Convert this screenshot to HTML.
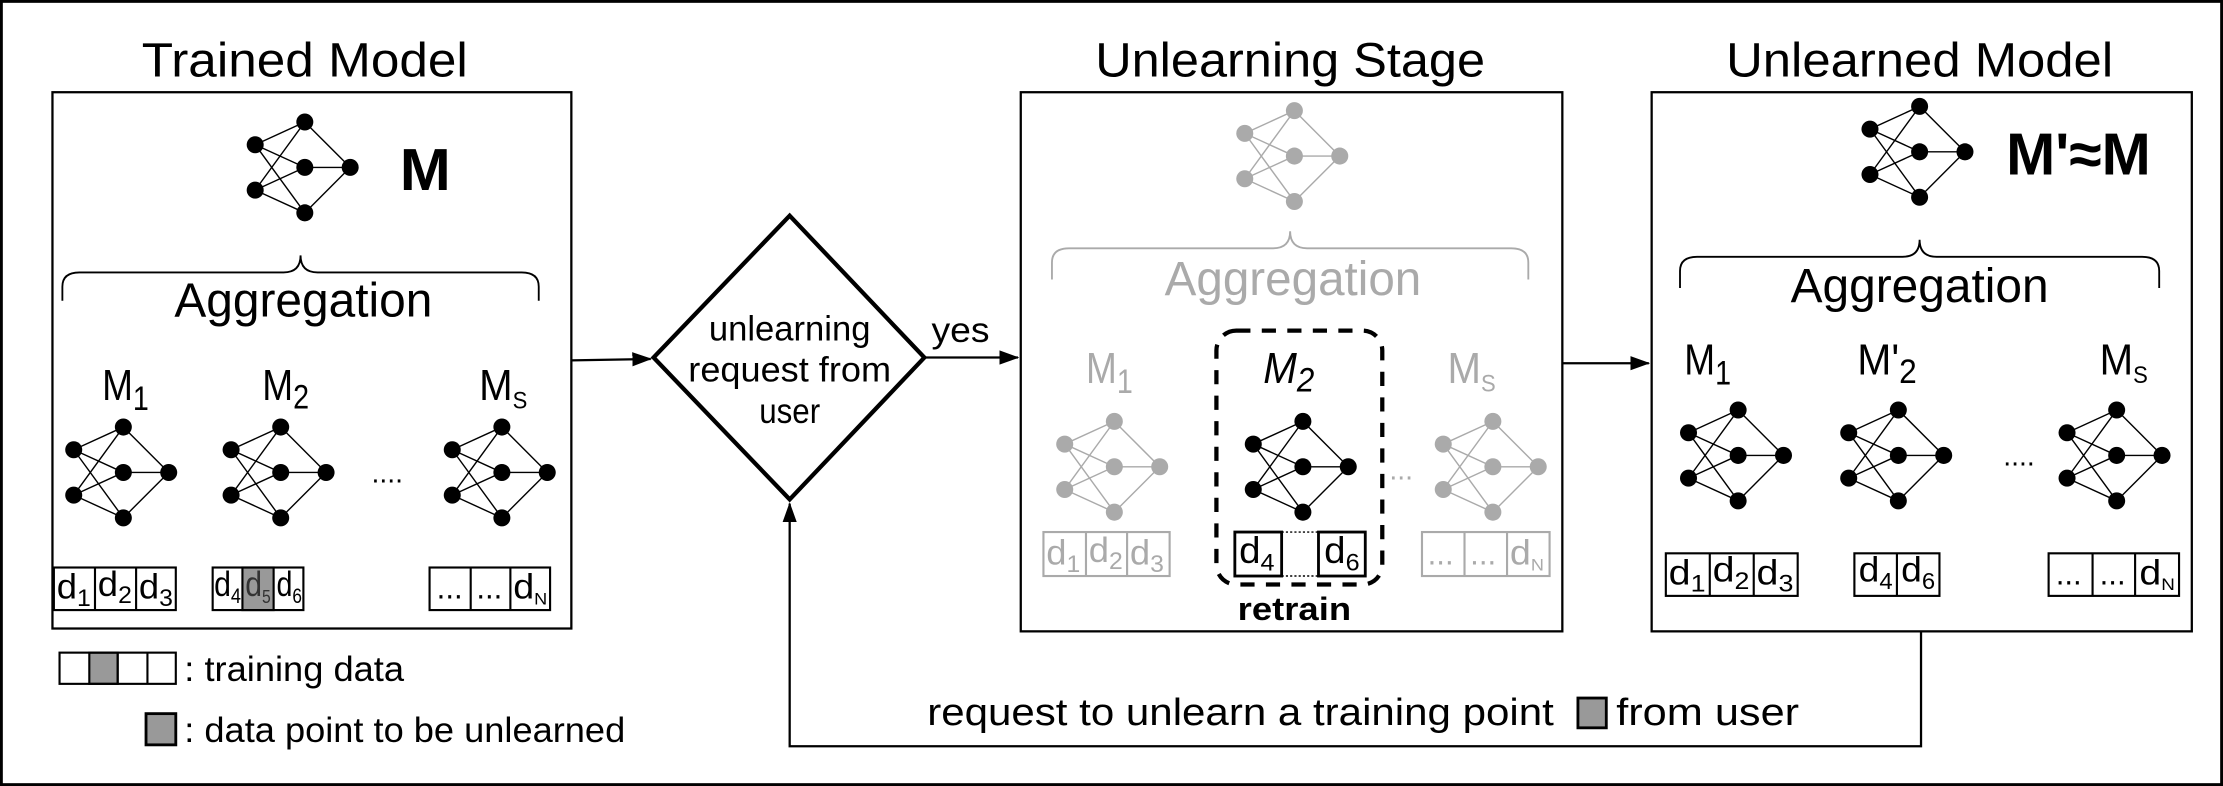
<!DOCTYPE html>
<html><head><meta charset="utf-8"><style>
html,body{margin:0;padding:0;background:#fff}
svg{display:block}
text{font-family:"Liberation Sans",sans-serif;}
</style></head><body>
<svg width="2223" height="786" viewBox="0 0 1568 554" preserveAspectRatio="none" xmlns="http://www.w3.org/2000/svg">
<defs>
<g id="net">
<g stroke-width="1">
<line x1="-35" y1="-16" x2="0" y2="-32"/><line x1="-35" y1="-16" x2="0" y2="0"/><line x1="-35" y1="-16" x2="0" y2="32"/>
<line x1="-35" y1="16" x2="0" y2="-32"/><line x1="-35" y1="16" x2="0" y2="0"/><line x1="-35" y1="16" x2="0" y2="32"/>
<line x1="0" y1="-32" x2="32" y2="0"/><line x1="0" y1="0" x2="32" y2="0"/><line x1="0" y1="32" x2="32" y2="0"/>
</g>
<g stroke="none">
<circle cx="-35" cy="-16" r="6"/><circle cx="-35" cy="16" r="6"/>
<circle cx="0" cy="-32" r="6"/><circle cx="0" cy="0" r="6"/><circle cx="0" cy="32" r="6"/>
<circle cx="32" cy="0" r="6"/>
</g>
</g>
<marker id="ah" markerWidth="14" markerHeight="12" refX="13" refY="6" orient="auto" markerUnits="userSpaceOnUse"><path d="M0,1 L14,6 L0,11 z" fill="#000"/></marker>
</defs>
<rect x="1" y="1" width="1566" height="552" fill="#fff" stroke="#000" stroke-width="2"/>

<g font-size="34" text-anchor="middle">
<text x="215" y="54" textLength="230" lengthAdjust="spacingAndGlyphs">Trained Model</text>
<text x="910" y="54" textLength="275" lengthAdjust="spacingAndGlyphs">Unlearning Stage</text>
<text x="1354" y="54" textLength="273" lengthAdjust="spacingAndGlyphs">Unlearned Model</text>
</g>

<!-- Box 1 -->
<rect x="37" y="65" width="366" height="378" fill="none" stroke="#000" stroke-width="1.6"/>
<g fill="#000" stroke="#000"><use href="#net" x="215" y="118"/><use href="#net" x="87" y="333"/><use href="#net" x="198" y="333"/><use href="#net" x="354" y="333"/></g>
<text x="282" y="134" font-size="42" font-weight="bold" textLength="36" lengthAdjust="spacingAndGlyphs">M</text>
<path d="M44,212 v-10 q0,-10 12,-10 h144 q12,0 12,-12 q0,12 12,12 h144 q12,0 12,10 v10" fill="none" stroke="#000" stroke-width="1.3"/>
<text x="214" y="223" font-size="34" text-anchor="middle" textLength="182" lengthAdjust="spacingAndGlyphs">Aggregation</text>
<g font-size="31">
<text x="72" y="282" textLength="33" lengthAdjust="spacingAndGlyphs">M<tspan font-size="24" dy="7">1</tspan></text>
<text x="185" y="282" textLength="33" lengthAdjust="spacingAndGlyphs">M<tspan font-size="24" dy="6">2</tspan></text>
<text x="338" y="282" textLength="34" lengthAdjust="spacingAndGlyphs">M<tspan font-size="17" dy="6">S</tspan></text></g>
<text x="262" y="340" font-size="20">....</text>

<g fill="none" stroke="#000" stroke-width="1.5">
<rect x="38" y="400" width="86" height="30"/><line x1="67" y1="400" x2="67" y2="430"/><line x1="96" y1="400" x2="96" y2="430"/>
<rect x="171" y="400" width="22" height="30" fill="#999"/>
<rect x="150" y="400" width="64" height="30"/>
<rect x="303" y="400" width="85" height="30"/><line x1="332" y1="400" x2="332" y2="430"/><line x1="360" y1="400" x2="360" y2="430"/>
</g>
<g font-size="25">
<text x="40" y="422" textLength="24" lengthAdjust="spacingAndGlyphs">d<tspan font-size="17" dy="5">1</tspan></text>
<text x="69" y="420" textLength="24" lengthAdjust="spacingAndGlyphs">d<tspan font-size="17" dy="5">2</tspan></text>
<text x="98" y="422" textLength="24" lengthAdjust="spacingAndGlyphs">d<tspan font-size="17" dy="5">3</tspan></text>
<text x="151" y="420" textLength="19" lengthAdjust="spacingAndGlyphs">d<tspan font-size="15" dy="5">4</tspan></text>
<text x="173" y="420" fill="#333" textLength="18" lengthAdjust="spacingAndGlyphs">d<tspan font-size="13" dy="5">5</tspan></text>
<text x="195" y="420" textLength="18" lengthAdjust="spacingAndGlyphs">d<tspan font-size="15" dy="5">6</tspan></text>
<text x="308" y="422" font-size="22">...</text><text x="336" y="422" font-size="22">...</text>
<text x="362" y="422" textLength="24" lengthAdjust="spacingAndGlyphs">d<tspan font-size="12" dy="4">N</tspan></text>
</g>

<g fill="none" stroke="#000" stroke-width="1.5">
<rect x="63" y="460" width="20" height="22" fill="#999"/>
<rect x="42" y="460" width="82" height="22"/><line x1="83" y1="460" x2="83" y2="482"/><line x1="104" y1="460" x2="104" y2="482"/>
<rect x="103" y="503" width="21" height="22" fill="#999" stroke-width="2"/>
</g>
<g font-size="25">
<text x="130" y="480" textLength="155" lengthAdjust="spacingAndGlyphs">: training data</text>
<text x="130" y="523" textLength="311" lengthAdjust="spacingAndGlyphs">: data point to be unlearned</text>
</g>

<!-- Diamond -->
<path d="M557,152 L652,252 L557,352 L461,252 Z" fill="#fff" stroke="#000" stroke-width="3"/>
<g font-size="25" text-anchor="middle">
<text x="557" y="240" textLength="114" lengthAdjust="spacingAndGlyphs">unlearning</text>
<text x="557" y="269" textLength="143" lengthAdjust="spacingAndGlyphs">request from</text>
<text x="557" y="298" textLength="43" lengthAdjust="spacingAndGlyphs">user</text>
</g>
<line x1="403" y1="254" x2="459" y2="253" stroke="#000" stroke-width="1.6" marker-end="url(#ah)"/>
<text x="657" y="241" font-size="25" textLength="41" lengthAdjust="spacingAndGlyphs">yes</text>
<line x1="652" y1="252" x2="718" y2="252" stroke="#000" stroke-width="1.6" marker-end="url(#ah)"/>

<!-- Box 2 -->
<rect x="720" y="65" width="382" height="380" fill="none" stroke="#000" stroke-width="1.6"/>
<g fill="#aaa" stroke="#aaa"><use href="#net" x="913" y="110"/><use href="#net" x="786" y="329"/><use href="#net" x="1053" y="329"/></g>
<g fill="#000" stroke="#000"><use href="#net" x="919" y="329"/></g>
<path d="M742,197 v-12 q0,-10 12,-10 h144 q12,0 12,-12 q0,12 12,12 h144 q12,0 12,10 v12" fill="none" stroke="#aaa" stroke-width="1.3"/>
<text x="912" y="208" font-size="34" fill="#aaa" text-anchor="middle" textLength="181" lengthAdjust="spacingAndGlyphs">Aggregation</text>
<g font-size="31" fill="#aaa">
<text x="766" y="270" textLength="33" lengthAdjust="spacingAndGlyphs">M<tspan font-size="24" dy="7">1</tspan></text>
<text x="1021" y="270" textLength="34" lengthAdjust="spacingAndGlyphs">M<tspan font-size="17" dy="6">S</tspan></text></g>
<text x="891" y="270" font-size="31" font-style="italic" textLength="36" lengthAdjust="spacingAndGlyphs">M<tspan font-size="24" dy="6">2</tspan></text>
<text x="980" y="338" font-size="20" fill="#aaa">...</text>
<rect x="858" y="233" width="117" height="179" rx="14" fill="none" stroke="#000" stroke-width="3" stroke-dasharray="10,8"/>
<g fill="none" stroke="#aaa" stroke-width="1.5">
<rect x="736" y="375" width="89" height="31"/><line x1="766" y1="375" x2="766" y2="406"/><line x1="795" y1="375" x2="795" y2="406"/>
<rect x="1003" y="375" width="90" height="31"/><line x1="1033" y1="375" x2="1033" y2="406"/><line x1="1063" y1="375" x2="1063" y2="406"/>
</g>
<g fill="none" stroke="#000">
<rect x="871" y="375" width="33" height="31" stroke-width="2"/>
<rect x="930" y="375" width="33" height="31" stroke-width="2"/>
<path d="M904,375 h26 M904,406 h26" stroke-width="1" stroke-dasharray="1.5,1.5"/>
</g>
<g font-size="25" fill="#aaa">
<text x="738" y="398" textLength="24" lengthAdjust="spacingAndGlyphs">d<tspan font-size="17" dy="5">1</tspan></text>
<text x="768" y="396" textLength="24" lengthAdjust="spacingAndGlyphs">d<tspan font-size="17" dy="5">2</tspan></text>
<text x="797" y="398" textLength="24" lengthAdjust="spacingAndGlyphs">d<tspan font-size="17" dy="5">3</tspan></text>
<text x="1007" y="398" font-size="22">...</text><text x="1037" y="398" font-size="22">...</text>
<text x="1065" y="398" textLength="24" lengthAdjust="spacingAndGlyphs">d<tspan font-size="12" dy="4">N</tspan></text>
</g>
<g font-size="26">
<text x="874" y="397" textLength="25" lengthAdjust="spacingAndGlyphs">d<tspan font-size="17" dy="5">4</tspan></text>
<text x="934" y="397" textLength="25" lengthAdjust="spacingAndGlyphs">d<tspan font-size="17" dy="5">6</tspan></text>
</g>
<text x="913" y="437" font-size="23" font-weight="bold" text-anchor="middle" textLength="80" lengthAdjust="spacingAndGlyphs">retrain</text>
<line x1="1102" y1="256" x2="1163" y2="256" stroke="#000" stroke-width="1.6" marker-end="url(#ah)"/>

<!-- Box 3 -->
<rect x="1165" y="65" width="381" height="380" fill="none" stroke="#000" stroke-width="1.6"/>
<g fill="#000" stroke="#000"><use href="#net" x="1354" y="107"/><use href="#net" x="1226" y="321"/><use href="#net" x="1339" y="321"/><use href="#net" x="1493" y="321"/></g>
<text x="1415" y="123" font-size="42" font-weight="bold" textLength="102" lengthAdjust="spacingAndGlyphs">M'≈M</text>
<path d="M1185,203 v-12 q0,-10 12,-10 h145 q12,0 12,-12 q0,12 12,12 h145 q12,0 12,10 v12" fill="none" stroke="#000" stroke-width="1.3"/>
<text x="1354" y="213" font-size="34" text-anchor="middle" textLength="182" lengthAdjust="spacingAndGlyphs">Aggregation</text>
<g font-size="31">
<text x="1188" y="264" textLength="33" lengthAdjust="spacingAndGlyphs">M<tspan font-size="24" dy="7">1</tspan></text>
<text x="1310" y="264" textLength="42" lengthAdjust="spacingAndGlyphs">M'<tspan font-size="24" dy="6">2</tspan></text>
<text x="1481" y="264" textLength="34" lengthAdjust="spacingAndGlyphs">M<tspan font-size="17" dy="6">S</tspan></text></g>
<text x="1413" y="328" font-size="20">....</text>
<g fill="none" stroke="#000" stroke-width="1.5">
<rect x="1175" y="390" width="93" height="30"/><line x1="1206" y1="390" x2="1206" y2="420"/><line x1="1237" y1="390" x2="1237" y2="420"/>
<rect x="1308" y="390" width="60" height="30"/><line x1="1338" y1="390" x2="1338" y2="420"/>
<rect x="1445" y="390" width="92" height="30"/><line x1="1476" y1="390" x2="1476" y2="420"/><line x1="1506" y1="390" x2="1506" y2="420"/>
</g>
<g font-size="25">
<text x="1177" y="412" textLength="26" lengthAdjust="spacingAndGlyphs">d<tspan font-size="17" dy="5">1</tspan></text>
<text x="1208" y="410" textLength="26" lengthAdjust="spacingAndGlyphs">d<tspan font-size="17" dy="5">2</tspan></text>
<text x="1239" y="412" textLength="26" lengthAdjust="spacingAndGlyphs">d<tspan font-size="17" dy="5">3</tspan></text>
<text x="1311" y="410" textLength="24" lengthAdjust="spacingAndGlyphs">d<tspan font-size="16" dy="5">4</tspan></text>
<text x="1341" y="410" textLength="24" lengthAdjust="spacingAndGlyphs">d<tspan font-size="16" dy="5">6</tspan></text>
<text x="1450" y="412" font-size="22">...</text><text x="1481" y="412" font-size="22">...</text>
<text x="1509" y="412" textLength="25" lengthAdjust="spacingAndGlyphs">d<tspan font-size="12" dy="4">N</tspan></text>
</g>

<polyline points="1355,445 1355,526 557,526 557,355" fill="none" stroke="#000" stroke-width="1.6" marker-end="url(#ah)"/>
<text x="654" y="511" font-size="27" textLength="442" lengthAdjust="spacingAndGlyphs">request to unlearn a training point</text>
<rect x="1113" y="492" width="20" height="21" fill="#999" stroke="#000" stroke-width="2"/>
<text x="1140" y="511" font-size="27" textLength="129" lengthAdjust="spacingAndGlyphs">from user</text>
</svg>
</body></html>
